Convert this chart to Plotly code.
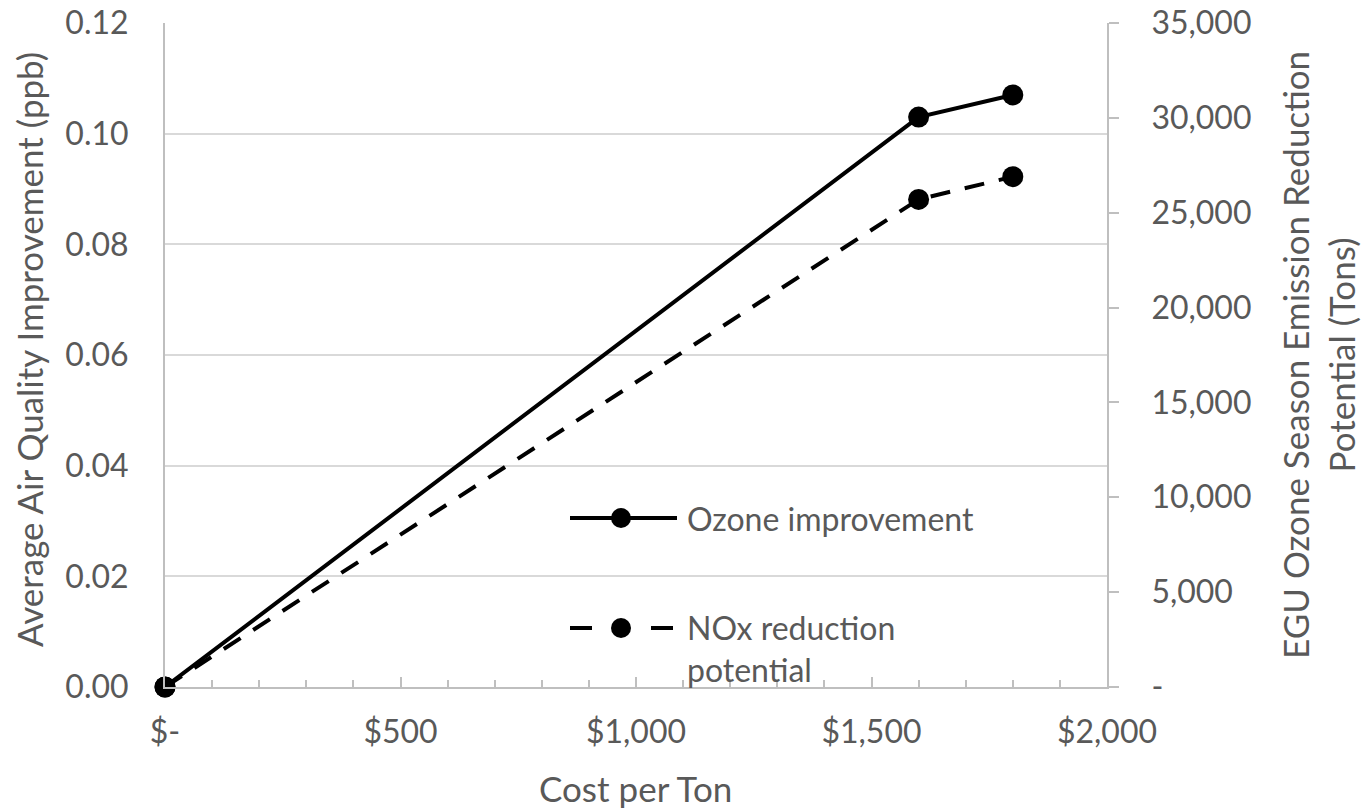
import plotly.graph_objects as go

# Cost per ton of NOx control (USD)
cost_per_ton = [0, 1600, 1800]
# Average ozone improvement (ppb), left axis
ozone_improvement = [0.0, 0.103, 0.107]
# EGU ozone-season NOx reduction potential (tons), right axis
nox_reduction = [0, 25700, 26900]

x_tickvals = [0, 500, 1000, 1500, 2000]
x_ticktext = ["$-", "$500", "$1,000", "$1,500", "$2,000"]
y_tickvals = [0.0, 0.02, 0.04, 0.06, 0.08, 0.10, 0.12]
y_ticktext = ["0.00", "0.02", "0.04", "0.06", "0.08", "0.10", "0.12"]
y2_tickvals = [0, 5000, 10000, 15000, 20000, 25000, 30000, 35000]
y2_ticktext = ["-", "5,000", "10,000", "15,000", "20,000", "25,000", "30,000", "35,000"]

FONT = "Lato"
TEXT = "#595959"
AXIS = "#bfbfbf"
GRID = "#d9d9d9"
FS = 32       # tick labels and legend
FS_T = 35     # axis titles

fig = go.Figure()

fig.add_trace(go.Scatter(
    x=cost_per_ton, y=ozone_improvement, mode="lines+markers",
    name="Ozone improvement",
    line=dict(color="black", width=4),
    marker=dict(color="black", size=21),
    showlegend=False, cliponaxis=False,
))
fig.add_trace(go.Scatter(
    x=cost_per_ton, y=nox_reduction, mode="lines+markers",
    name="NOx reduction potential", yaxis="y2",
    line=dict(color="black", width=4, dash="20px,15px"),
    marker=dict(color="black", size=21),
    showlegend=False, cliponaxis=False,
))

# Plot-area geometry in pixels (used to place legend keys and titles)
L, R, T, B = 165, 1107, 23, 687


def px_x(p):
    return (p - L) / (R - L)


def px_y(p):
    return (B - p) / (B - T)


shapes = []
# legend key: solid line with marker
shapes.append(dict(type="line", xref="paper", yref="paper",
                   x0=px_x(570), x1=px_x(677), y0=px_y(518), y1=px_y(518),
                   line=dict(color="black", width=4)))
shapes.append(dict(type="circle", xref="paper", yref="paper",
                   x0=px_x(611), x1=px_x(631), y0=px_y(528), y1=px_y(508),
                   fillcolor="black", line=dict(color="black", width=0)))
# legend key: dashed line with marker
shapes.append(dict(type="line", xref="paper", yref="paper",
                   x0=px_x(570), x1=px_x(592), y0=px_y(628), y1=px_y(628),
                   line=dict(color="black", width=4)))
shapes.append(dict(type="line", xref="paper", yref="paper",
                   x0=px_x(651), x1=px_x(673), y0=px_y(628), y1=px_y(628),
                   line=dict(color="black", width=4)))
shapes.append(dict(type="circle", xref="paper", yref="paper",
                   x0=px_x(611), x1=px_x(631), y0=px_y(638), y1=px_y(618),
                   fillcolor="black", line=dict(color="black", width=0)))

legend_font = dict(family=FONT, size=FS, color=TEXT)
title_font = dict(family=FONT, size=FS_T, color=TEXT)

annotations = [
    dict(text="Ozone improvement", xref="paper", yref="paper",
         x=px_x(685), y=px_y(518), xanchor="left", yanchor="middle",
         showarrow=False, font=legend_font),
    dict(text="NOx reduction<br>potential", xref="paper", yref="paper",
         x=px_x(685), y=px_y(606), xanchor="left", yanchor="top", align="left",
         showarrow=False, font=legend_font),
    # axis titles
    dict(text="Cost per Ton", xref="paper", yref="paper",
         x=px_x(635), y=px_y(788), xanchor="center", yanchor="middle",
         showarrow=False, font=title_font),
    dict(text="Average Air Quality Improvement (ppb)", xref="paper", yref="paper",
         x=px_x(29), y=px_y(350), xanchor="center", yanchor="middle",
         textangle=-90, showarrow=False, font=title_font),
    dict(text="EGU Ozone Season Emission Reduction<br>Potential (Tons)",
         xref="paper", yref="paper", x=px_x(1318), y=px_y(355),
         xanchor="center", yanchor="middle", textangle=-90,
         showarrow=False, font=title_font),
]

fig.update_layout(
    width=1366, height=812,
    margin=dict(l=L, r=1366 - R, t=T, b=812 - B, autoexpand=False),
    paper_bgcolor="white", plot_bgcolor="white",
    font=dict(family=FONT, size=FS, color=TEXT),
    shapes=shapes, annotations=annotations,
    xaxis=dict(
        range=[0, 2000], tickvals=x_tickvals, ticktext=x_ticktext,
        showgrid=False, zeroline=False, automargin=False,
        showline=True, linecolor=AXIS, linewidth=2,
        ticks="inside", ticklen=10, tickcolor=AXIS, tickwidth=2,
        minor=dict(dtick=100, ticks="inside", ticklen=7, tickcolor=AXIS, tickwidth=2),
        ticklabelstandoff=16,
        tickfont=dict(family=FONT, size=FS, color=TEXT),
    ),
    yaxis=dict(
        range=[0, 0.12], tickvals=y_tickvals, ticktext=y_ticktext,
        showgrid=True, gridcolor=GRID, gridwidth=2, zeroline=False,
        automargin=False,
        showline=True, linecolor=AXIS, linewidth=2,
        ticks="", ticklabelstandoff=28,
        tickfont=dict(family=FONT, size=FS, color=TEXT),
    ),
    yaxis2=dict(
        range=[0, 35000], tickvals=y2_tickvals, ticktext=y2_ticktext,
        overlaying="y", side="right", anchor="x",
        showgrid=False, zeroline=False, automargin=False,
        showline=True, linecolor=AXIS, linewidth=2,
        ticks="outside", ticklen=10, tickcolor=AXIS, tickwidth=2,
        ticklabelstandoff=26,
        tickfont=dict(family=FONT, size=FS, color=TEXT),
    ),
)

fig.write_html("out.html")
